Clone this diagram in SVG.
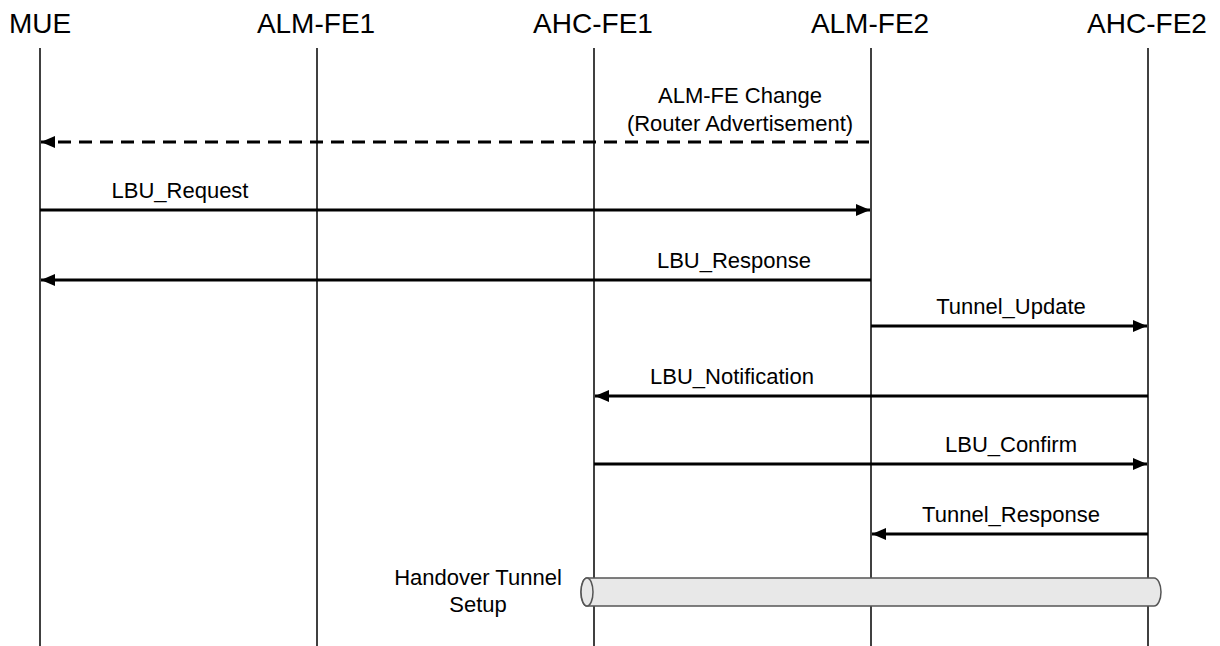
<svg xmlns="http://www.w3.org/2000/svg" width="1220" height="646" viewBox="0 0 1220 646">
<style>
text{font-family:"Liberation Sans",Arial,sans-serif;fill:#000}
.hdr{font-size:28px;text-anchor:middle}
.lbl{font-size:22px;text-anchor:middle}
.life{stroke:#000;stroke-width:1.5}
.msg{stroke:#000;stroke-width:3;fill:none}
.dash{stroke-dasharray:13 8}
</style>
<defs>
<marker id="ah" viewBox="0 0 14 12" refX="14" refY="6" markerWidth="14" markerHeight="12" markerUnits="userSpaceOnUse" orient="auto">
<path d="M0,0 L14,6 L0,12 Z" fill="#000"/>
</marker>
</defs>
<rect width="1220" height="646" fill="#fff"/>
<g id="MUE"><text class="hdr" x="40" y="33">MUE</text><line class="life" x1="40" y1="48" x2="40" y2="646"/></g>
<g id="ALM-FE1"><text class="hdr" x="316" y="33">ALM-FE1</text><line class="life" x1="317" y1="48" x2="317" y2="646"/></g>
<g id="AHC-FE1"><text class="hdr" x="593" y="33">AHC-FE1</text><line class="life" x1="594" y1="48" x2="594" y2="646"/></g>
<g id="ALM-FE2"><text class="hdr" x="870" y="33">ALM-FE2</text><line class="life" x1="871" y1="48" x2="871" y2="646"/></g>
<g id="AHC-FE2"><text class="hdr" x="1147" y="33">AHC-FE2</text><line class="life" x1="1148" y1="48" x2="1148" y2="646"/></g>
<g id="tunnel">
<path d="M587,578 L1154,578 A7,14 0 0 1 1154,606 L587,606 A6,14 0 0 1 587,578 Z" fill="#e8e8e8" stroke="#555" stroke-width="1.5"/>
<ellipse cx="587" cy="592" rx="6" ry="14" fill="#e8e8e8" stroke="#555" stroke-width="1.5"/>
<text class="lbl" x="478" y="585">Handover Tunnel</text>
<text class="lbl" x="478" y="612">Setup</text>
</g>
<g id="connectors">
<line class="msg dash" x1="869" y1="142" x2="41" y2="142" marker-end="url(#ah)"/>
<text class="lbl" x="740" y="103">ALM-FE Change</text>
<text class="lbl" x="740" y="131">(Router Advertisement)</text>
<line class="msg" x1="40" y1="210" x2="870" y2="210" marker-end="url(#ah)"/>
<text class="lbl" x="180" y="198">LBU_Request</text>
<line class="msg" x1="871" y1="280" x2="41" y2="280" marker-end="url(#ah)"/>
<text class="lbl" x="734" y="268">LBU_Response</text>
<line class="msg" x1="871" y1="326" x2="1147" y2="326" marker-end="url(#ah)"/>
<text class="lbl" x="1011" y="314">Tunnel_Update</text>
<line class="msg" x1="1148" y1="396" x2="595" y2="396" marker-end="url(#ah)"/>
<text class="lbl" x="732" y="384">LBU_Notification</text>
<line class="msg" x1="594" y1="464" x2="1147" y2="464" marker-end="url(#ah)"/>
<text class="lbl" x="1011" y="452">LBU_Confirm</text>
<line class="msg" x1="1148" y1="534" x2="872" y2="534" marker-end="url(#ah)"/>
<text class="lbl" x="1011" y="522">Tunnel_Response</text>
</g>
</svg>
